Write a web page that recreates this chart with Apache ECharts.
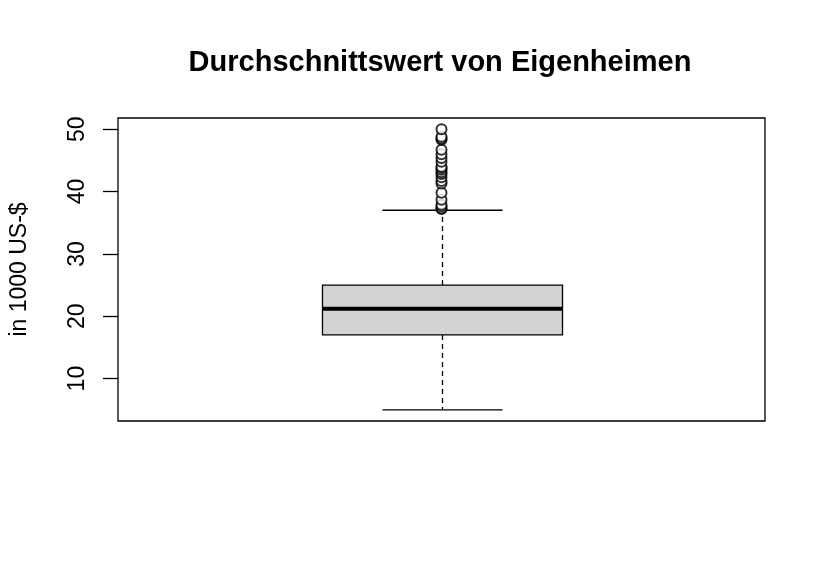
<!DOCTYPE html>
<html>
<head>
<meta charset="utf-8">
<script src="https://cdn.jsdelivr.net/npm/echarts@6/dist/echarts.min.js"></script>
<style>html,body{margin:0;padding:0;background:#fff}#c{width:826px;height:568px}</style>
</head>
<body>
<div id="c"></div>
<script>
const categories = ['medv'];
// lower whisker, Q1, median, Q3, upper whisker
const boxStats = [[5.0, 17.0, 21.2, 25.0, 37.0]];
const outliers = [37.2, 37.3, 37.6, 37.9, 38.7, 39.8, 41.3, 41.7, 42.3, 42.8, 43.1, 43.5, 43.8, 44.0, 44.8, 45.4, 46.0, 46.7, 48.3, 48.5, 48.8, 50.0];
const yTicks = [10, 20, 30, 40, 50];
const titleText = 'Durchschnittswert von Eigenheimen';
const yTitle = 'in 1000 US-$';

const FONT = '"Liberation Sans", Arial, sans-serif';
const chart = echarts.init(document.getElementById('c'), null, {renderer: 'canvas'});

const boxData = boxStats.map((s, i) => [i].concat(s));
const outlierData = outliers.map(v => [0, v]);

function renderBox(params, api) {
  const x = api.value(0);
  const lo = api.coord([x, api.value(1)]);
  const q1 = api.coord([x, api.value(2)]);
  const med = api.coord([x, api.value(3)]);
  const q3 = api.coord([x, api.value(4)]);
  const hi = api.coord([x, api.value(5)]);
  const band = api.size([1, 0])[0];
  const half = band * 0.1855;
  const cap = band * 0.0928;
  const cx = Math.round(lo[0]) + 0.5;
  const dash = {stroke: '#000', lineWidth: 1.3, lineDash: [5, 4]};
  const solid = {stroke: '#000', lineWidth: 1.3};
  return {
    type: 'group',
    children: [
      {type: 'line', shape: {x1: cx, y1: q3[1], x2: cx, y2: hi[1]}, style: dash},
      {type: 'line', shape: {x1: cx, y1: q1[1], x2: cx, y2: lo[1]}, style: dash},
      {type: 'line', shape: {x1: cx - cap, y1: hi[1], x2: cx + cap, y2: hi[1]}, style: solid},
      {type: 'line', shape: {x1: cx - cap, y1: lo[1], x2: cx + cap, y2: lo[1]}, style: solid},
      {type: 'rect', shape: {x: cx - half, y: q3[1], width: half * 2, height: q1[1] - q3[1]},
        style: {fill: '#d3d3d3', stroke: '#000', lineWidth: 1.3}},
      {type: 'line', shape: {x1: cx - half, y1: med[1], x2: cx + half, y2: med[1]},
        style: {stroke: '#000', lineWidth: 4}}
    ]
  };
}

chart.setOption({
  animation: false,
  backgroundColor: '#fff',
  title: {
    text: titleText,
    left: 435,
    textAlign: 'center',
    top: 43,
    textStyle: {fontFamily: FONT, fontSize: 29, fontWeight: 'bold', color: '#000'}
  },
  grid: {left: 118, right: 61, top: 118, bottom: 147, containLabel: false, outerBoundsMode: 'none',
    show: true, borderColor: '#000', borderWidth: 1.3, backgroundColor: 'transparent'},
  xAxis: {
    type: 'category',
    data: categories,
    boundaryGap: true,
    axisLine: {show: false},
    axisTick: {show: false},
    axisLabel: {show: false},
    splitLine: {show: false}
  },
  yAxis: {
    type: 'value',
    min: 3.2,
    max: 51.8,
    name: yTitle,
    nameLocation: 'middle',
    nameRotate: 90,
    nameGap: 87,
    nameTextStyle: {fontFamily: FONT, fontSize: 23, color: '#000'},
    axisLine: {show: false},
    splitLine: {show: false},
    axisTick: {show: true, length: 15, inside: false, customValues: yTicks, lineStyle: {color: '#000', width: 1.3}},
    axisLabel: {show: true, rotate: 90, margin: 29, customValues: yTicks, fontFamily: FONT, fontSize: 23, color: '#000'}
  },
  series: [
    {type: 'custom', renderItem: renderBox, data: boxData, encode: {x: 0, y: [1, 2, 3, 4, 5]}, z: 2},
    {type: 'scatter', data: outlierData, symbol: 'emptyCircle', symbolSize: 10,
      itemStyle: {color: '#000', borderColor: '#000', borderWidth: 1}, z: 3}
  ]
});
</script>
</body>
</html>
